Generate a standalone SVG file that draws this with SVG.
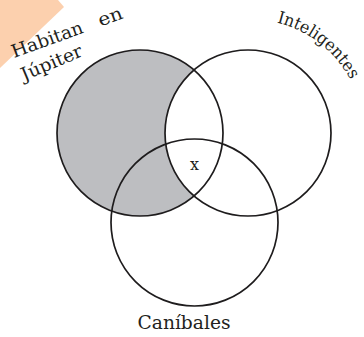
<svg xmlns="http://www.w3.org/2000/svg" width="364" height="337" viewBox="0 0 364 337">
<style>
.ring{fill:none;stroke:#1e1c1d;stroke-width:1.7}
.lbl{font-family:"DejaVu Serif","Liberation Serif",serif;fill:#231f20}
</style>
<defs>
<path id="arcInt" d="M276.8,22.5 A114,114 0 0 1 356,92"/>
</defs>
<rect width="364" height="337" fill="#ffffff"/>
<polygon points="0,0 58,0 64,7 0,68" fill="#fcd0ae"/>
<g id="shade">
<path d="M194,69.97 A83,83 0 1 0 194,196.03 A83,83 0 0 1 194,69.97 Z" fill="#bdbec1"/>
</g>
<g id="connectors"></g>
<g id="jupiter">
<circle class="ring" cx="140" cy="133" r="83"/>
<g transform="translate(14,58) rotate(-20)">
<text class="lbl" x="0" y="0" font-size="18" textLength="75" lengthAdjust="spacingAndGlyphs">Habitan</text>
<text class="lbl" x="92" y="0" font-size="18" textLength="25" lengthAdjust="spacingAndGlyphs">en</text>
</g>
<text class="lbl" transform="translate(24,81) rotate(-23)" x="0" y="0" font-size="18" textLength="65" lengthAdjust="spacingAndGlyphs">Júpiter</text>
</g>
<g id="inteligentes">
<circle class="ring" cx="248" cy="133" r="83"/>
<text class="lbl" font-size="17"><textPath href="#arcInt" textLength="96" lengthAdjust="spacingAndGlyphs">Inteligentes</textPath></text>
</g>
<g id="canibales">
<circle class="ring" cx="194.5" cy="222.5" r="83.5"/>
<text class="lbl" x="184" y="329" font-size="18" text-anchor="middle" textLength="93" lengthAdjust="spacingAndGlyphs">Caníbales</text>
</g>
<g id="x">
<text class="lbl" x="194.5" y="170" font-size="16" text-anchor="middle">x</text>
</g>
</svg>
